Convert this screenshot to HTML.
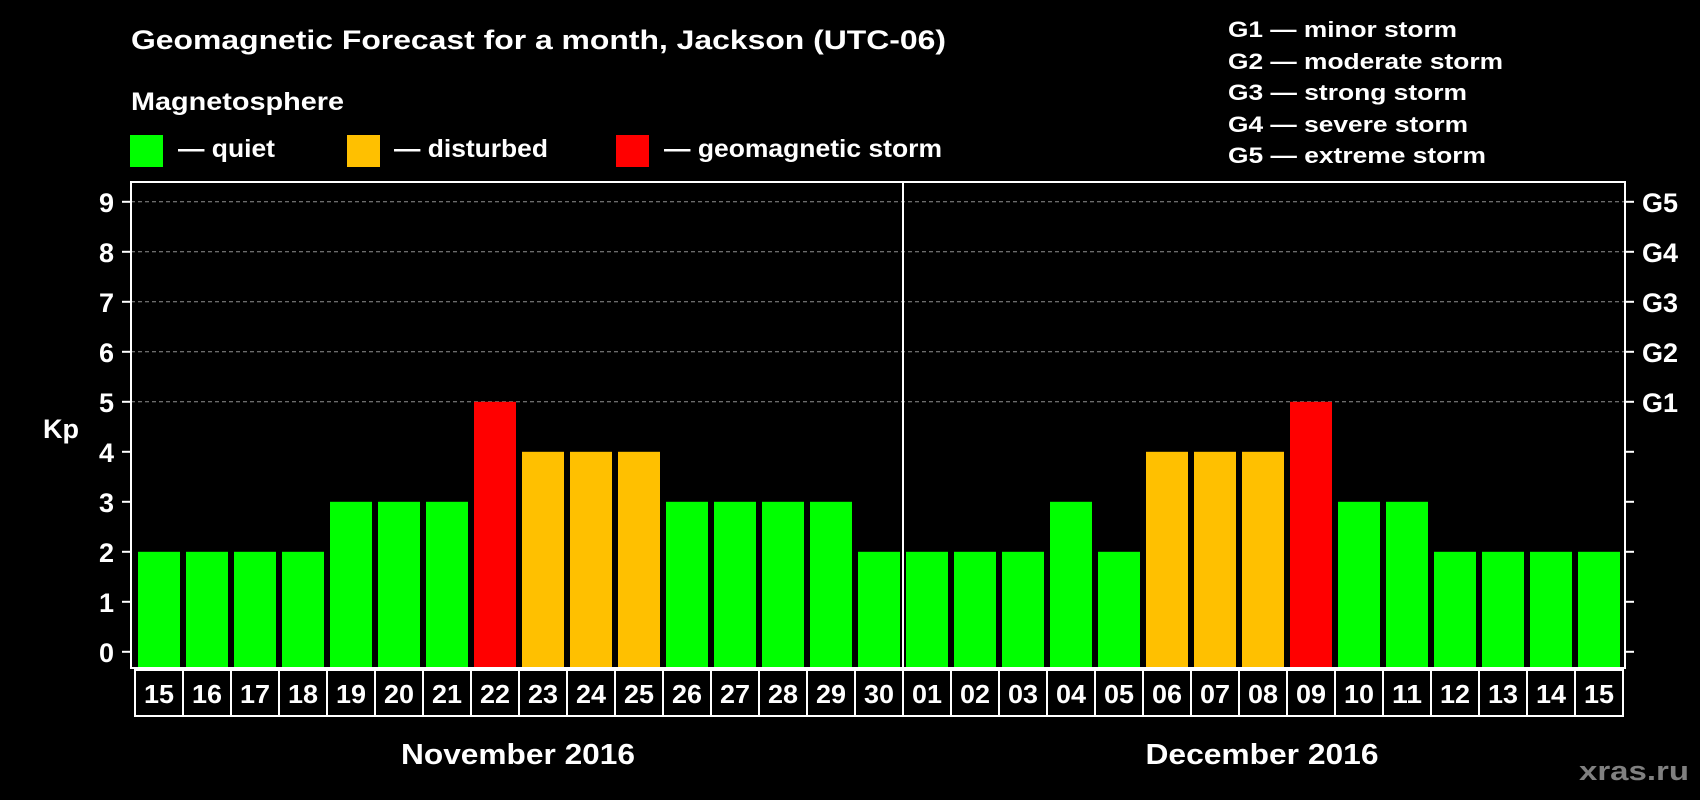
<!DOCTYPE html>
<html><head><meta charset="utf-8">
<style>
html,body{margin:0;padding:0;background:#000;}
svg{display:block;font-family:"Liberation Sans",Arial,sans-serif;font-weight:bold;}
</style></head>
<body>
<svg id="chart" width="1700" height="800" viewBox="0 0 1700 800" xmlns="http://www.w3.org/2000/svg">
<rect x="0" y="0" width="1700" height="800" fill="#000"/>
<text x="131" y="49" font-size="27" fill="#fff" textLength="815" lengthAdjust="spacingAndGlyphs">Geomagnetic Forecast for a month, Jackson (UTC-06)</text>
<text x="131" y="110" font-size="25" fill="#fff" textLength="213" lengthAdjust="spacingAndGlyphs">Magnetosphere</text>
<g>
<rect x="130" y="135" width="33" height="32" fill="#00ff00"/>
<text x="178" y="157" font-size="25" fill="#fff" textLength="97" lengthAdjust="spacingAndGlyphs">— quiet</text>
</g>
<g>
<rect x="347" y="135" width="33" height="32" fill="#ffc000"/>
<text x="394" y="157" font-size="25" fill="#fff" textLength="154" lengthAdjust="spacingAndGlyphs">— disturbed</text>
</g>
<g>
<rect x="616" y="135" width="33" height="32" fill="#ff0000"/>
<text x="664" y="157" font-size="25" fill="#fff" textLength="278" lengthAdjust="spacingAndGlyphs">— geomagnetic storm</text>
</g>
<g font-size="22" fill="#fff">
<text x="1228" y="37" textLength="229" lengthAdjust="spacingAndGlyphs">G1 — minor storm</text>
<text x="1228" y="69" textLength="275" lengthAdjust="spacingAndGlyphs">G2 — moderate storm</text>
<text x="1228" y="100" textLength="239" lengthAdjust="spacingAndGlyphs">G3 — strong storm</text>
<text x="1228" y="132" textLength="240" lengthAdjust="spacingAndGlyphs">G4 — severe storm</text>
<text x="1228" y="163" textLength="258" lengthAdjust="spacingAndGlyphs">G5 — extreme storm</text>
</g>
<g id="grid"></g>
<g id="bars"></g>
<g id="axes"></g>
<text x="43" y="438" font-size="27" fill="#fff">Kp</text>
<text x="518" y="764" font-size="29" fill="#fff" text-anchor="middle" textLength="234" lengthAdjust="spacingAndGlyphs">November 2016</text>
<text x="1262" y="764" font-size="29" fill="#fff" text-anchor="middle" textLength="233" lengthAdjust="spacingAndGlyphs">December 2016</text>
<text x="1689" y="780" font-size="27" fill="#808080" text-anchor="end" textLength="110" lengthAdjust="spacingAndGlyphs">xras.ru</text>
</svg>
<script>
const days = ["15","16","17","18","19","20","21","22","23","24","25","26","27","28","29","30","01","02","03","04","05","06","07","08","09","10","11","12","13","14","15"];
const kpValues = [2,2,2,2,3,3,3,5,4,4,4,3,3,3,3,2,2,2,2,3,2,4,4,4,5,3,3,2,2,2,2];
const yTicks = [0,1,2,3,4,5,6,7,8,9];
const stormLabels = ["G1","G2","G3","G4","G5"];
const stormLevels = [5,6,7,8,9];
const monthBreakIndex = 16;

const NS = "http://www.w3.org/2000/svg";
const plotL = 131, plotR = 1625, plotT = 182, plotB = 668;
const pitch = 48, x0 = 135, barW = 42;
function yScale(v){ return 651.8 - 50 * v; }
function xScale(i){ return x0 + i * pitch; }
function color(v){ return v >= 5 ? "#ff0000" : (v >= 4 ? "#ffc000" : "#00ff00"); }
function mk(tag, attrs, parent){ const e = document.createElementNS(NS, tag); for (const k in attrs) e.setAttribute(k, attrs[k]); parent.appendChild(e); return e; }

const grid = document.getElementById("grid");
stormLevels.forEach(v => {
  const l = mk("line", {x1: plotL, x2: plotR, y1: yScale(v), y2: yScale(v), stroke: "#909090", "stroke-width": 1, "stroke-dasharray": "4 3"}, grid);
  
  
});

const bars = document.getElementById("bars");
kpValues.forEach((v, i) => {
  const r = mk("rect", {x: xScale(i) + 3, y: yScale(v), width: barW, height: plotB - yScale(v), fill: color(v)}, bars);
  
  
});

const axes = document.getElementById("axes");
const frame = mk("rect", {x: plotL, y: plotT, width: plotR - plotL, height: plotB - plotT, fill: "none", stroke: "#fff", "stroke-width": 2}, axes);


yTicks.forEach(v => {
  const y = yScale(v);
  mk("line", {x1: plotL - 9, x2: plotL, y1: y, y2: y, stroke: "#fff", "stroke-width": 2}, axes);
  mk("line", {x1: plotR, x2: plotR + 9, y1: y, y2: y, stroke: "#fff", "stroke-width": 2}, axes);
  const t = mk("text", {x: 114, y: y + 10, "font-size": 27, fill: "#fff", "text-anchor": "end"}, axes);
  t.textContent = v;
  
  
});
stormLabels.forEach((s, i) => {
  const t = mk("text", {x: 1642, y: yScale(stormLevels[i]) + 10, "font-size": 27, fill: "#fff"}, axes);
  t.textContent = s;
  
  
});
// date boxes
const boxT = 670, boxB = 716;
const boxRow = mk("rect", {x: x0, y: boxT, width: days.length * pitch, height: boxB - boxT, fill: "none", stroke: "#fff", "stroke-width": 2}, axes);


days.forEach((d, i) => {
  if (i > 0) mk("line", {x1: xScale(i), x2: xScale(i), y1: boxT, y2: boxB, stroke: "#fff", "stroke-width": 2}, axes);
  const t = mk("text", {x: xScale(i) + pitch / 2, y: boxT + 33, "font-size": 26, fill: "#fff", "text-anchor": "middle", textLength: 30, lengthAdjust: "spacingAndGlyphs"}, axes);
  t.textContent = d;
  
  
});
const div = mk("line", {x1: xScale(monthBreakIndex), x2: xScale(monthBreakIndex), y1: plotT, y2: boxB, stroke: "#fff", "stroke-width": 2}, axes);


</script>
</body></html>
